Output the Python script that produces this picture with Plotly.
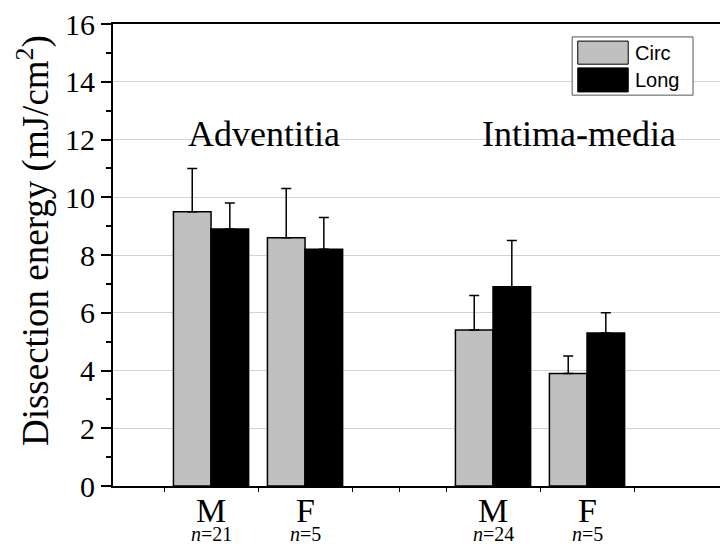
import plotly.graph_objects as go

# -- Data ---------------------------------------------------------------------

group_pos = [1, 2, 4, 5]
group_labels = ["M", "F", "M", "F"]
group_n = ["21", "5", "24", "5"]

circ_mean = [9.5, 8.6, 5.4, 3.9]
circ_err = [1.5, 1.7, 1.2, 0.6]
long_mean = [8.9, 8.2, 6.9, 5.3]
long_err = [0.9, 1.1, 1.6, 0.7]

layer_names = ["Adventitia", "Intima-media"]
layer_pos = [0.737, 3.866]
layer_y = 12.2

SERIF = "Liberation Serif, Times New Roman, serif"
SANS = "Liberation Sans, Arial, sans-serif"

# page has an 8px body margin, so the figure is laid out 8px left/up of the target
fig = go.Figure()

fig.add_trace(go.Bar(
    x=group_pos, y=circ_mean, name="Circ",
    marker=dict(color="#c0c0c0", line=dict(color="black", width=1.5)),
    error_y=dict(type="data", array=circ_err, arrayminus=[0] * 4, symmetric=False,
                 color="black", thickness=1.5, width=5),
))
fig.add_trace(go.Bar(
    x=group_pos, y=long_mean, name="Long",
    marker=dict(color="black", line=dict(color="black", width=1.5)),
    error_y=dict(type="data", array=long_err, arrayminus=[0] * 4, symmetric=False,
                 color="black", thickness=1.5, width=5),
))

# group headings
for name, xp in zip(layer_names, layer_pos):
    fig.add_annotation(x=xp, y=layer_y, text=name, showarrow=False,
                       xanchor="left", yanchor="middle",
                       font=dict(family=SERIF, size=36, color="black"))

# x labels: sex + sample size
for xp, lab, n in zip(group_pos, group_labels, group_n):
    fig.add_annotation(x=xp, y=-0.054, yref="paper", text=lab, showarrow=False,
                       yanchor="middle", font=dict(family=SERIF, size=34, color="black"))
    fig.add_annotation(x=xp, y=-0.104, yref="paper", text=f"<i>n</i>={n}", showarrow=False,
                       yanchor="middle", font=dict(family=SERIF, size=20, color="black"))

# y title (as annotation so it can sit a bit above the axis centre)
fig.add_annotation(x=-0.127, y=0.532, xref="paper", yref="paper", textangle=-90,
                   text="Dissection energy (mJ/cm<sup>2</sup>)", showarrow=False,
                   xanchor="center", yanchor="middle",
                   font=dict(family=SERIF, size=37, color="black"))

# custom legend
fig.add_shape(type="rect", xref="paper", yref="paper", x0=0.737, x1=0.931, y0=0.846, y1=0.972,
              fillcolor="white", line=dict(color="#555555", width=1), layer="above")
fig.add_shape(type="rect", xref="paper", yref="paper", x0=0.746, x1=0.827, y0=0.913, y1=0.963,
              fillcolor="#c0c0c0", line=dict(color="black", width=1), layer="above")
fig.add_shape(type="rect", xref="paper", yref="paper", x0=0.746, x1=0.827, y0=0.853, y1=0.905,
              fillcolor="black", line=dict(color="black", width=1), layer="above")
for txt, yy in [("Circ", 0.938), ("Long", 0.879)]:
    fig.add_annotation(x=0.835, y=yy, xref="paper", yref="paper", text=txt, showarrow=False,
                       xanchor="left", yanchor="middle",
                       font=dict(family=SANS, size=20, color="black"))

fig.update_layout(
    width=728, height=545,
    margin=dict(l=105, r=0, t=16, b=67),
    paper_bgcolor="white", plot_bgcolor="white",
    barmode="group", bargap=0.2, bargroupgap=0,
    showlegend=False,
    font=dict(family=SERIF, color="black"),
)
fig.update_xaxes(
    range=[-0.043, 6.585],
    tickvals=[0.5, 1.5, 2.5, 3, 3.5, 4.5, 5.5], showticklabels=False,
    ticks="outside", ticklen=4, tickwidth=1, tickcolor="black",
    showline=True, linecolor="black", linewidth=2, mirror=True,
    showgrid=False, zeroline=False,
)
fig.update_yaxes(
    range=[0, 16], dtick=2, tick0=0, automargin=False, ticklabeloverflow="allow",
    ticks="outside", ticklen=10, tickwidth=1.5, tickcolor="black",
    minor=dict(dtick=1, ticks="outside", ticklen=5, tickcolor="black", showgrid=False),
    tickfont=dict(family=SERIF, size=30, color="black"),
    showline=True, linecolor="black", linewidth=2,
    showgrid=True, gridcolor="#d3d3d3", gridwidth=1, zeroline=False,
)

fig.write_html("out.html")
